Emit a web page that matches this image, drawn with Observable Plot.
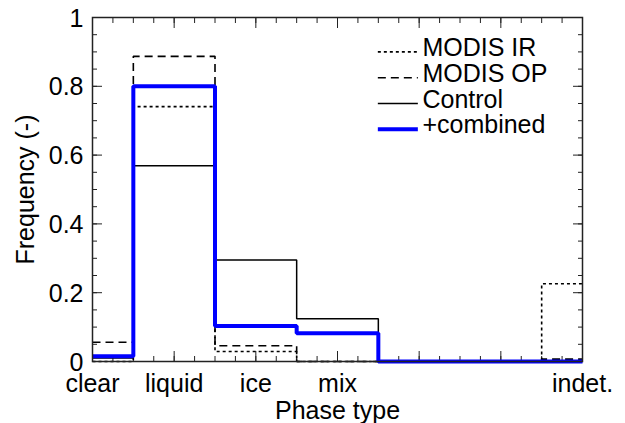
<!DOCTYPE html>
<html><head><meta charset="utf-8">
<script src="https://cdn.jsdelivr.net/npm/d3@7"></script>
<script src="https://cdn.jsdelivr.net/npm/@observablehq/plot@0.6"></script>
<style>body{margin:0;background:#fff;}</style>
</head><body><div id="chart"></div>
<script>
// ---- data ----
const phaseLabels = ["clear", "liquid", "ice", "mix", "", "", "indet."];
const modisIR  = [0.0,   0.741, 0.029, 0.0,   0.0, 0.0, 0.226];
const modisOP  = [0.056, 0.887, 0.046, 0.0,   0.0, 0.0, 0.007];
const control  = [0.01,  0.569, 0.295, 0.124, 0.0, 0.0, 0.0];
const combined = [0.015, 0.80,  0.103, 0.082, 0.0, 0.0, 0.0];
const seriesNames = ["MODIS IR", "MODIS OP", "Control", "+combined"];
const yTickLabels = [0, 0.2, 0.4, 0.6, 0.8, 1];

// ---- styling ----
const seriesValues = [modisIR, modisOP, control, combined];
const styles = [
  {stroke: "#000", strokeWidth: 1.6, strokeDasharray: "3,3"},
  {stroke: "#000", strokeWidth: 1.6, strokeDasharray: "8,5"},
  {stroke: "#000", strokeWidth: 1.5},
  {stroke: "#0000ff", strokeWidth: 4}
];
const font = "'Liberation Sans', Arial, Helvetica, sans-serif";
const fs = 25;
const axisColor = "#222";

const xMinor = d3.range(0, 6.001, 0.25);
const xMajor = d3.range(0, 7);
const yMinor = d3.range(0, 1.0001, 0.05);
const noText = () => "";

const marks = [];
// ticks (inward) on all four sides
for (const anchor of ["bottom", "top"]) {
  marks.push(Plot.axisX({anchor, ticks: xMinor, tickSize: -5, tickFormat: noText, label: null, stroke: axisColor}));
  marks.push(Plot.axisX({anchor, ticks: xMajor, tickSize: -10, tickFormat: noText, label: null, stroke: axisColor}));
}
for (const anchor of ["left", "right"]) {
  marks.push(Plot.axisY({anchor, ticks: yMinor, tickSize: -5, tickFormat: noText, label: null, stroke: axisColor}));
  marks.push(Plot.axisY({anchor, ticks: yTickLabels, tickSize: -10, tickFormat: noText, label: null, stroke: axisColor}));
}
// tick labels
marks.push(Plot.axisX({anchor: "bottom", ticks: xMajor.filter(i => phaseLabels[i] !== ""),
  tickFormat: i => phaseLabels[i], tickSize: 0, tickPadding: 13, fontSize: fs, label: null, fill: "#000"}));
marks.push(Plot.axisY({anchor: "left", ticks: yTickLabels, tickFormat: d => String(d),
  tickSize: 0, tickPadding: 9, fontSize: fs, label: null, fill: "#000", dy: 1}));

// series step lines
seriesValues.forEach((vals, s) => {
  const rows = vals.map((v, i) => ({i, v}));
  marks.push(Plot.line(rows, {x: "i", y: "v", curve: "step", strokeLinecap: "butt", strokeLinejoin: "miter", ...styles[s]}));
});

// legend
const legendRowY = [0.9, 0.825, 0.75, 0.675];
seriesNames.forEach((name, s) => {
  marks.push(Plot.ruleY([legendRowY[s]], {x1: 3.5, x2: 3.99, strokeLinecap: "butt", ...styles[s]}));
});
marks.push(Plot.text(seriesNames, {x: 4.04, y: (d, i) => legendRowY[i], text: d => d,
  textAnchor: "start", lineAnchor: "middle", dy: -4, fontSize: fs, fill: "#000"}));

// axis titles
marks.push(Plot.text(["Frequency (-)"], {frameAnchor: "left", dx: -67, rotate: -90,
  textAnchor: "middle", lineAnchor: "middle", fontSize: fs, fill: "#000"}));
marks.push(Plot.text(["Phase type"], {frameAnchor: "bottom", dy: 49,
  textAnchor: "middle", lineAnchor: "middle", fontSize: fs, fill: "#000"}));

// frame
marks.push(Plot.frame({stroke: axisColor, strokeWidth: 1.5}));

const chart = Plot.plot({
  width: 625, height: 423,
  marginLeft: 92, marginRight: 43, marginTop: 17, marginBottom: 62,
  x: {domain: [0, 6], axis: null},
  y: {domain: [0, 1], axis: null},
  style: {fontFamily: font, fontSize: fs + "px", background: "#fff", color: "#000"},
  marks
});
document.getElementById("chart").appendChild(chart);
</script>
</body></html>
